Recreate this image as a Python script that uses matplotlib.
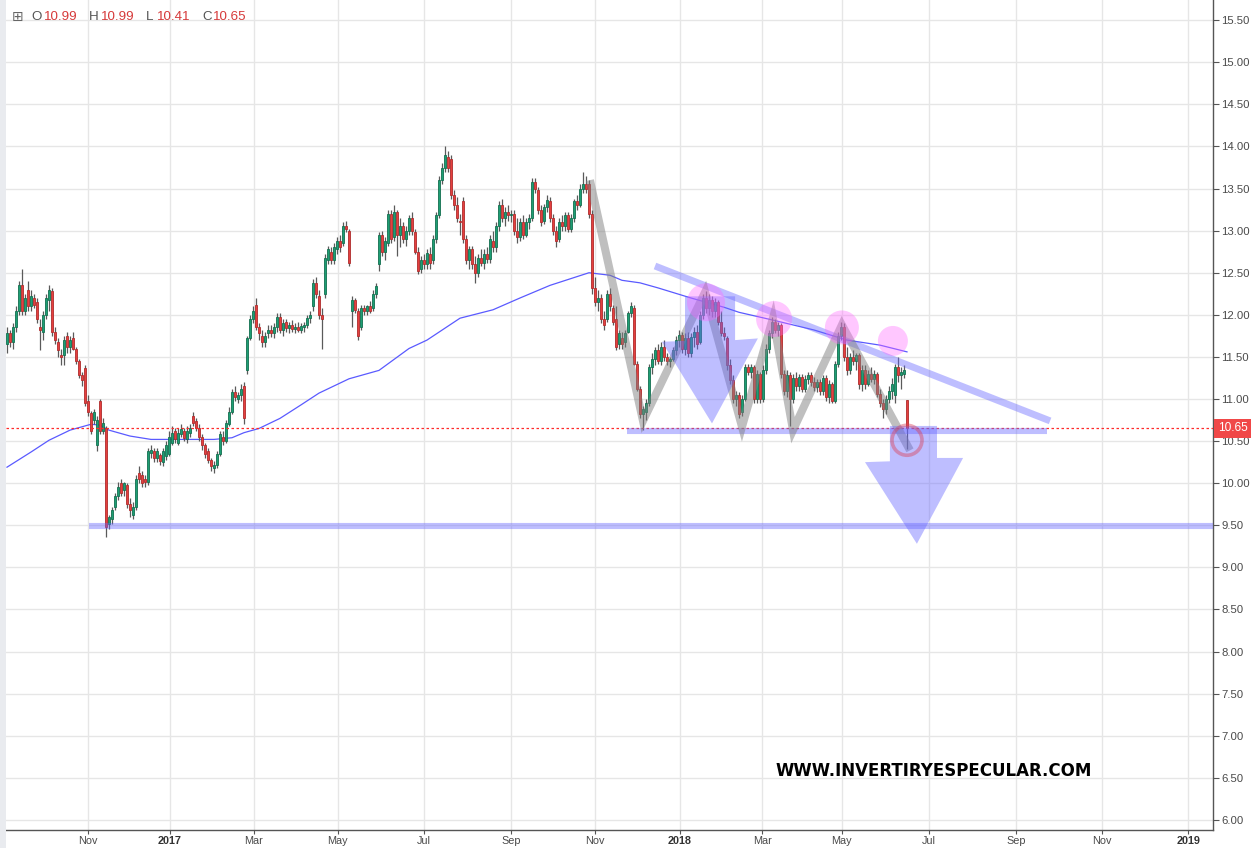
import numpy as np
import matplotlib
matplotlib.use("Agg")
import matplotlib.pyplot as plt
from matplotlib.patches import Ellipse, Polygon, Rectangle
import matplotlib.transforms as mtransforms

# ---- candle data (one bar per slot) ----
opens = [
    11.65, 11.78, 11.68, 11.85, 12.05, 12.35, 12.05, 12.30, 12.10, 12.20,
    12.15, 11.85, 11.80, 12.00, 12.18, 12.28, 11.80, 11.68, 11.52, 11.52,
    11.75, 11.62, 11.72, 11.60, 11.45, 11.28, 11.37, 10.98, 10.83, 10.75,
    10.45, 10.98, 10.62, 10.65, 9.52, 9.58, 9.72, 9.85, 10.00, 9.92,
    9.98, 9.75, 9.62, 9.72, 10.12, 10.10, 10.05, 10.02, 10.36, 10.38,
    10.30, 10.33, 10.25, 10.32, 10.35, 10.48, 10.62, 10.48, 10.58, 10.62,
    10.52, 10.60, 10.80, 10.74, 10.66, 10.55, 10.45, 10.38, 10.28, 10.18,
    10.22, 10.35, 10.55, 10.50, 10.70, 10.85, 11.08, 11.00, 11.05, 11.15,
    11.35, 11.72, 11.95, 12.12, 11.85, 11.75, 11.68, 11.78, 11.82, 11.78,
    11.85, 11.98, 11.82, 11.92, 11.84, 11.88, 11.83, 11.86, 11.82, 11.85,
    11.88, 11.96, 12.10, 12.38, 12.22, 12.00, 12.25, 12.65, 12.75, 12.65,
    12.78, 12.88, 12.85, 13.05, 13.00, 12.05, 12.18, 12.05, 11.85, 12.08,
    12.04, 12.10, 12.08, 12.25, 12.60, 12.95, 12.75, 12.85, 13.20, 12.92,
    13.22, 12.95, 13.05, 12.90, 13.00, 13.15, 12.98, 12.75, 12.55, 12.65,
    12.60, 12.72, 12.65, 12.90, 13.18, 13.60, 13.75, 13.88, 13.85, 13.42,
    13.30, 13.12, 13.35, 12.90, 12.65, 12.78, 12.60, 12.50, 12.68, 12.62,
    12.72, 12.66, 12.88, 12.80, 13.05, 13.30, 13.15, 13.22, 13.18, 13.20,
    13.00, 12.92, 13.10, 12.95, 13.10, 13.15, 13.58, 13.48, 13.25, 13.12,
    13.28, 13.35, 13.15, 13.00, 12.90, 13.10, 13.05, 13.18, 13.02, 13.15,
    13.35, 13.30, 13.50, 13.55, 13.55, 13.20, 12.32, 12.15, 12.20, 11.95,
    11.95, 12.25, 12.08, 11.95, 11.65, 11.72, 11.68, 11.80, 12.02, 12.08,
    11.42, 11.12, 10.82, 10.85, 10.95, 11.38, 11.48, 11.58, 11.45, 11.62,
    11.50, 11.45, 11.47, 11.58, 11.70, 11.76, 11.60, 11.72, 11.55, 11.74,
    11.80, 11.68, 12.00, 12.20, 12.08, 12.18, 12.05, 12.15, 11.92, 11.78,
    11.72, 11.40, 11.22, 11.00, 11.05, 10.85, 11.00, 11.38, 11.32, 11.38,
    11.00, 11.30, 11.00, 11.35, 11.60, 11.78, 11.92, 11.82, 11.88, 11.30,
    11.10, 11.28, 11.00, 11.25, 11.15, 11.26, 11.12, 11.24, 11.28, 11.20,
    11.14, 11.20, 11.10, 11.25, 11.02, 11.18, 10.98, 11.42, 11.75, 11.85,
    11.50, 11.35, 11.50, 11.45, 11.52, 11.18, 11.35, 11.18, 11.30, 11.24,
    11.30, 11.06, 10.95, 10.88, 11.00, 11.10, 11.05, 11.38, 11.28, 11.30,
    10.99,
]
highs = [
    11.85, 11.82, 11.90, 12.10, 12.40, 12.55, 12.25, 12.40, 12.30, 12.25,
    12.20, 11.95, 12.05, 12.25, 12.35, 12.32, 11.85, 11.72, 11.60, 11.75,
    11.80, 11.75, 11.80, 11.62, 11.48, 11.32, 11.40, 11.05, 10.86, 10.88,
    10.80, 11.00, 10.78, 10.68, 9.62, 9.72, 9.88, 10.02, 10.05, 10.02,
    10.00, 9.82, 9.78, 10.10, 10.20, 10.15, 10.10, 10.42, 10.45, 10.42,
    10.42, 10.36, 10.42, 10.50, 10.62, 10.68, 10.65, 10.66, 10.70, 10.66,
    10.68, 10.70, 10.84, 10.78, 10.70, 10.58, 10.48, 10.42, 10.30, 10.26,
    10.38, 10.62, 10.62, 10.75, 10.90, 11.12, 11.15, 11.08, 11.18, 11.20,
    11.75, 12.00, 12.10, 12.20, 11.90, 11.82, 11.80, 11.88, 11.88, 11.90,
    12.02, 12.02, 11.95, 11.95, 11.92, 11.94, 11.90, 11.92, 11.90, 11.92,
    12.00, 12.05, 12.42, 12.45, 12.30, 12.08, 12.72, 12.82, 12.80, 12.85,
    12.92, 12.95, 13.10, 13.12, 13.02, 12.22, 12.20, 12.08, 12.12, 12.12,
    12.12, 12.16, 12.30, 12.38, 12.98, 13.00, 12.92, 13.25, 13.25, 13.30,
    13.25, 13.15, 13.10, 13.05, 13.18, 13.22, 13.02, 12.80, 12.70, 12.72,
    12.78, 12.80, 12.95, 13.22, 13.65, 13.80, 14.00, 13.95, 13.90, 13.48,
    13.40, 13.20, 13.40, 12.95, 12.82, 12.82, 12.70, 12.72, 12.78, 12.78,
    12.80, 12.95, 13.00, 13.10, 13.35, 13.38, 13.28, 13.30, 13.25, 13.25,
    13.15, 13.15, 13.18, 13.15, 13.20, 13.62, 13.62, 13.52, 13.30, 13.32,
    13.42, 13.40, 13.20, 13.05, 13.15, 13.18, 13.22, 13.22, 13.20, 13.38,
    13.42, 13.55, 13.70, 13.65, 13.60, 13.25, 12.45, 12.30, 12.25, 12.05,
    12.30, 12.32, 12.12, 12.10, 11.82, 11.80, 11.82, 12.05, 12.15, 12.12,
    11.45, 11.15, 10.92, 11.00, 11.42, 11.55, 11.62, 11.65, 11.68, 11.70,
    11.55, 11.50, 11.62, 11.75, 11.82, 11.80, 11.78, 11.80, 11.78, 11.85,
    11.88, 12.05, 12.25, 12.28, 12.25, 12.22, 12.20, 12.18, 12.05, 11.85,
    11.75, 11.48, 11.28, 11.10, 11.08, 11.05, 11.42, 11.42, 11.42, 11.40,
    11.35, 11.32, 11.40, 11.65, 11.82, 11.98, 11.95, 11.92, 11.90, 11.35,
    11.35, 11.32, 11.30, 11.32, 11.30, 11.30, 11.28, 11.32, 11.32, 11.26,
    11.24, 11.24, 11.28, 11.28, 11.22, 11.20, 11.45, 11.80, 11.92, 11.90,
    11.62, 11.55, 11.58, 11.55, 11.55, 11.40, 11.40, 11.35, 11.38, 11.35,
    11.32, 11.12, 11.00, 11.05, 11.15, 11.25, 11.42, 11.50, 11.38, 11.40,
    10.99,
]
lows = [
    11.55, 11.62, 11.60, 11.80, 12.00, 12.00, 12.00, 12.05, 12.05, 12.08,
    11.90, 11.58, 11.70, 11.95, 12.05, 11.75, 11.65, 11.50, 11.40, 11.40,
    11.55, 11.55, 11.58, 11.42, 11.25, 11.15, 10.92, 10.80, 10.58, 10.70,
    10.38, 10.58, 10.58, 9.36, 9.45, 9.52, 9.68, 9.80, 9.85, 9.85,
    9.70, 9.60, 9.58, 9.68, 10.00, 9.95, 9.96, 9.98, 10.30, 10.25,
    10.25, 10.22, 10.20, 10.28, 10.32, 10.45, 10.48, 10.45, 10.55, 10.50,
    10.48, 10.55, 10.68, 10.62, 10.50, 10.40, 10.30, 10.24, 10.15, 10.12,
    10.18, 10.32, 10.45, 10.48, 10.68, 10.82, 10.98, 10.95, 10.98, 10.70,
    11.30, 11.70, 11.90, 11.82, 11.70, 11.62, 11.62, 11.72, 11.74, 11.72,
    11.80, 11.78, 11.75, 11.80, 11.78, 11.80, 11.78, 11.80, 11.78, 11.80,
    11.84, 11.90, 12.05, 12.20, 11.95, 11.60, 12.20, 12.60, 12.60, 12.60,
    12.72, 12.75, 12.82, 12.98, 12.58, 11.85, 12.02, 11.70, 11.82, 12.00,
    12.00, 12.02, 12.05, 12.20, 12.52, 12.70, 12.65, 12.82, 12.85, 12.88,
    12.70, 12.80, 12.85, 12.82, 12.95, 12.95, 12.72, 12.48, 12.50, 12.55,
    12.55, 12.55, 12.60, 12.85, 13.15, 13.55, 13.70, 13.70, 13.38, 13.25,
    13.10, 12.95, 12.85, 12.60, 12.55, 12.55, 12.38, 12.45, 12.58, 12.55,
    12.62, 12.62, 12.75, 12.75, 13.00, 13.10, 13.05, 13.12, 13.10, 12.95,
    12.85, 12.88, 12.90, 12.92, 13.02, 13.12, 13.45, 13.20, 13.05, 13.08,
    13.22, 13.10, 12.95, 12.80, 12.86, 13.00, 13.00, 12.98, 12.98, 13.10,
    13.25, 13.28, 13.45, 13.45, 13.15, 12.25, 12.10, 12.05, 11.90, 11.82,
    11.92, 12.05, 11.88, 11.58, 11.60, 11.60, 11.62, 11.78, 11.98, 11.40,
    11.10, 10.78, 10.63, 10.75, 10.92, 11.30, 11.40, 11.42, 11.40, 11.45,
    11.40, 11.38, 11.45, 11.52, 11.62, 11.55, 11.52, 11.50, 11.50, 11.62,
    11.60, 11.65, 11.95, 12.02, 12.00, 11.98, 11.98, 11.88, 11.75, 11.70,
    11.35, 11.18, 10.95, 10.92, 10.78, 10.80, 10.98, 11.28, 11.25, 10.95,
    10.95, 10.95, 10.97, 11.30, 11.55, 11.72, 11.78, 11.75, 11.25, 11.05,
    11.02, 10.68, 10.95, 11.10, 11.10, 11.08, 11.08, 11.18, 11.15, 11.10,
    11.08, 11.05, 11.05, 10.98, 10.95, 10.95, 10.95, 11.38, 11.70, 11.45,
    11.28, 11.30, 11.40, 11.35, 11.12, 11.10, 11.12, 11.15, 11.20, 11.18,
    11.02, 10.90, 10.78, 10.82, 10.95, 11.00, 10.95, 11.20, 11.12, 11.25,
    10.41,
]
closes = [
    11.78, 11.68, 11.85, 12.05, 12.35, 12.05, 12.20, 12.10, 12.22, 12.12,
    11.95, 11.82, 12.00, 12.20, 12.30, 11.80, 11.70, 11.58, 11.50, 11.70,
    11.62, 11.70, 11.60, 11.45, 11.28, 11.22, 10.95, 10.85, 10.62, 10.85,
    10.75, 10.62, 10.72, 9.48, 9.60, 9.68, 9.85, 9.95, 9.88, 10.00,
    9.75, 9.68, 9.72, 10.05, 10.05, 10.00, 10.02, 10.38, 10.40, 10.30,
    10.38, 10.26, 10.38, 10.45, 10.55, 10.60, 10.52, 10.60, 10.64, 10.54,
    10.62, 10.66, 10.72, 10.66, 10.55, 10.45, 10.35, 10.28, 10.20, 10.22,
    10.35, 10.58, 10.50, 10.72, 10.85, 11.08, 11.02, 11.05, 11.12, 10.78,
    11.72, 11.95, 12.05, 11.85, 11.78, 11.68, 11.75, 11.82, 11.78, 11.85,
    11.98, 11.82, 11.90, 11.84, 11.88, 11.83, 11.86, 11.82, 11.87, 11.88,
    11.96, 12.00, 12.38, 12.25, 12.00, 11.95, 12.68, 12.78, 12.65, 12.80,
    12.88, 12.80, 13.05, 13.02, 12.62, 12.18, 12.06, 11.75, 12.08, 12.04,
    12.10, 12.05, 12.25, 12.34, 12.95, 12.75, 12.88, 13.20, 12.90, 13.22,
    12.95, 13.05, 12.90, 13.00, 13.15, 13.00, 12.75, 12.52, 12.65, 12.60,
    12.74, 12.62, 12.90, 13.18, 13.60, 13.75, 13.90, 13.74, 13.42, 13.30,
    13.15, 13.10, 12.90, 12.65, 12.78, 12.60, 12.50, 12.68, 12.62, 12.72,
    12.66, 12.90, 12.80, 13.05, 13.30, 13.15, 13.22, 13.18, 13.20, 13.00,
    12.92, 13.10, 12.95, 13.10, 13.15, 13.58, 13.50, 13.25, 13.10, 13.28,
    13.36, 13.15, 13.00, 12.88, 13.10, 13.05, 13.18, 13.02, 13.15, 13.35,
    13.30, 13.50, 13.55, 13.50, 13.20, 12.32, 12.15, 12.20, 11.95, 11.88,
    12.25, 12.10, 11.92, 11.62, 11.78, 11.65, 11.78, 12.02, 12.10, 11.42,
    11.12, 10.82, 10.88, 10.95, 11.38, 11.48, 11.58, 11.45, 11.62, 11.50,
    11.45, 11.47, 11.58, 11.70, 11.76, 11.60, 11.72, 11.55, 11.74, 11.80,
    11.65, 12.00, 12.20, 12.08, 12.18, 12.05, 12.15, 11.92, 11.78, 11.75,
    11.40, 11.22, 11.00, 11.05, 10.82, 11.00, 11.38, 11.32, 11.38, 11.00,
    11.30, 11.00, 11.35, 11.60, 11.78, 11.92, 11.82, 11.88, 11.30, 11.10,
    11.28, 11.00, 11.25, 11.15, 11.26, 11.12, 11.24, 11.28, 11.20, 11.14,
    11.20, 11.10, 11.25, 11.02, 11.18, 10.98, 11.42, 11.75, 11.85, 11.50,
    11.35, 11.50, 11.45, 11.52, 11.18, 11.35, 11.18, 11.30, 11.24, 11.30,
    11.06, 10.95, 10.88, 11.00, 11.10, 11.18, 11.38, 11.28, 11.32, 11.35,
    10.65,
]

# moving average read at a few bars
ma_bars = [0, 8, 14, 21, 28, 31, 34, 41, 48, 54, 69, 75, 79, 84, 91, 98, 104,
           114, 124, 134, 140, 151, 162, 171, 181, 194, 201, 205, 211, 217,
           228, 239, 244, 255, 269, 280, 291, 300]
ma_vals = [10.19, 10.37, 10.51, 10.63, 10.70, 10.69, 10.63, 10.56, 10.52, 10.52,
           10.52, 10.54, 10.60, 10.65, 10.77, 10.93, 11.07, 11.24, 11.34, 11.60,
           11.70, 11.96, 12.06, 12.20, 12.35, 12.50, 12.47, 12.41, 12.38, 12.32,
           12.20, 12.09, 12.03, 11.94, 11.82, 11.70, 11.64, 11.56]

last_price = 10.65
legend_vals = ["10.99", "10.99", "10.41", "10.65"]

# x axis month labels (bar position of each label)
tick_labels = ["Nov", "2017", "Mar", "May", "Jul", "Sep", "Nov", "2018",
               "Mar", "May", "Jul", "Sep", "Nov", "2019"]
tick_pos = [27, 54.3, 82.3, 110.3, 139, 168, 196, 224.3,
            251.7, 278.3, 307.3, 336.3, 365, 393.7]

# ---- hand drawn analysis (bar, price) ----
zigzag_bars = [194.3, 212, 232.7, 245, 255.3, 262, 278.3, 301]
zigzag_prices = [13.60, 10.74, 12.27, 10.67, 11.96, 10.63, 11.88, 10.39]
support_low = (27.5, 402, 9.49)
support_mid = (206.7, 346.7, 10.62)
resist_bars = [216, 347.7]
resist_prices = [12.58, 10.74]
top_circles = [(233, 12.15, 19), (255.7, 11.95, 18), (278.3, 11.85, 17), (295.3, 11.69, 15)]
arrow1 = [(226.0, 12.22), (242.7, 12.22), (242.7, 11.70), (250.3, 11.72),
          (235.0, 10.71), (218.3, 11.68), (226.0, 11.69)]
arrow2 = [(294.3, 10.68), (310.0, 10.68), (310.0, 10.30), (318.7, 10.30),
          (303.3, 9.28), (286.0, 10.25), (294.3, 10.26)]
break_ring = (300, 10.51, 15)

W, H = 1253, 848
fig = plt.figure(figsize=(W / 100, H / 100), dpi=100)
fig.patch.set_facecolor("white")
ax_bottom = 18  # px from the bottom of the figure
ax = fig.add_axes([6 / W, ax_bottom / H, (1213 - 6) / W, (H - ax_bottom) / H])

ax.set_xlim(-0.33, 402)
ax.set_ylim(15.5 - (H - ax_bottom - 20) / 84.2, 15.74)

# grid
ax.set_xticks(tick_pos)
ax.set_yticks(np.arange(6.0, 15.51, 0.5))
ax.grid(True, color="#e6e6e6", linewidth=1)
ax.set_axisbelow(True)

# moving average
ax.plot(ma_bars, ma_vals, color="#5a5aff", linewidth=0.9, zorder=2)

# candles
o = np.array(opens)
hi = np.array(highs)
lo = np.array(lows)
c = np.array(closes)
idx = np.arange(len(c))
up = c >= o
ax.vlines(idx, lo, hi, color="#5a5a5a", linewidth=0.9, zorder=3)
ax.bar(idx[up], c[up] - o[up], bottom=o[up], width=0.75,
       color="#1e9e74", edgecolor="#137050", linewidth=0.6, zorder=4)
ax.bar(idx[~up], o[~up] - c[~up], bottom=c[~up], width=0.75,
       color="#e5403f", edgecolor="#b02c2c", linewidth=0.6, zorder=4)

# last price line
ax.axhline(last_price, color="#ff2a2a", linestyle=(0, (2, 2)), linewidth=0.9, zorder=5)

# drawings
blue = "#6666ff"
ax.plot([support_low[0], support_low[1]], [support_low[2]] * 2, color=blue, alpha=0.42,
        linewidth=4.4, solid_capstyle="butt", zorder=6)
ax.plot([support_mid[0], support_mid[1]], [support_mid[2]] * 2, color=blue, alpha=0.42,
        linewidth=4.4, solid_capstyle="butt", zorder=6)
ax.plot(resist_bars, resist_prices, color=blue, alpha=0.42, linewidth=5.0,
        solid_capstyle="butt", zorder=6)
ax.plot(zigzag_bars, zigzag_prices, color="#808080", alpha=0.5, linewidth=5.8,
        solid_capstyle="butt", solid_joinstyle="miter", zorder=6)
for cx, cy, r in top_circles:
    ax.add_patch(Ellipse((cx, cy), 2 * r / 3, 2 * r / 84.2, facecolor="#ff66ff",
                         alpha=0.36, edgecolor="none", zorder=7))
for pts in (arrow1, arrow2):
    ax.add_patch(Polygon(pts, closed=True, facecolor=blue, alpha=0.42,
                         edgecolor="none", zorder=6))
ax.add_patch(Ellipse((break_ring[0], break_ring[1]), 2 * break_ring[2] / 3,
                     2 * break_ring[2] / 84.2, facecolor="none", edgecolor="#d9455f",
                     alpha=0.45, linewidth=2.6, zorder=7))

# axes styling
for side in ("top", "left"):
    ax.spines[side].set_visible(False)
for side in ("right", "bottom"):
    ax.spines[side].set_color("#555555")
    ax.spines[side].set_linewidth(1.0)
ax.yaxis.tick_right()
ax.set_yticklabels([f"{v:.2f}" for v in np.arange(6.0, 15.51, 0.5)])
ax.tick_params(axis="y", colors="#555555", labelcolor="#4a4a4a", labelsize=8.2,
               length=4, width=0.8, pad=2)
ax.set_xticklabels(tick_labels)
ax.tick_params(axis="x", colors="#555555", labelcolor="#4a4a4a", labelsize=7.8,
               length=3, width=0.8, pad=1)
for lbl in ax.get_xticklabels():
    lbl.set_fontfamily("Liberation Sans")
    if lbl.get_text().isdigit():
        lbl.set_fontweight("bold")
        lbl.set_color("#333333")
for lbl in ax.get_yticklabels():
    lbl.set_fontfamily("Liberation Sans")

# last price tag on the axis
trans = mtransforms.blended_transform_factory(ax.transAxes, ax.transData)
ax.text(1.004, last_price, f"{last_price:.2f}", transform=trans, ha="left", va="center",
        color="white", fontsize=8.6, family="Liberation Sans", zorder=10,
        bbox=dict(boxstyle="square,pad=0.28", facecolor="#f04848", edgecolor="none"),
        clip_on=False)

# left toolbar strip
fig.patches.append(Rectangle((0, 0), 6 / W, 1, transform=fig.transFigure,
                             facecolor="#e9ebef", edgecolor="none"))

# OHLC legend
ty = 1 - 17 / H
fig.text(12 / W, ty, "\u229e", color="#666666", fontsize=10, va="center",
         family="DejaVu Sans")
parts = [("O", 31), ("H", 89), ("L", 146), ("C", 202)]
val_x = [44, 101, 157, 213]
for (letter, lx), val, vx in zip(parts, legend_vals, val_x):
    fig.text(lx / W, ty, letter, color="#555555", fontsize=9.6, va="center",
             family="Liberation Sans")
    fig.text(vx / W, ty, val, color="#d63a3a", fontsize=9.6, va="center",
             family="Liberation Sans")

# watermark
fig.text(934 / W, 1 - 771 / H, "WWW.INVERTIRYESPECULAR.COM", ha="center", va="center",
         fontsize=12, fontweight="bold", color="black", family="DejaVu Sans")

fig.savefig("out.png", dpi=100)
